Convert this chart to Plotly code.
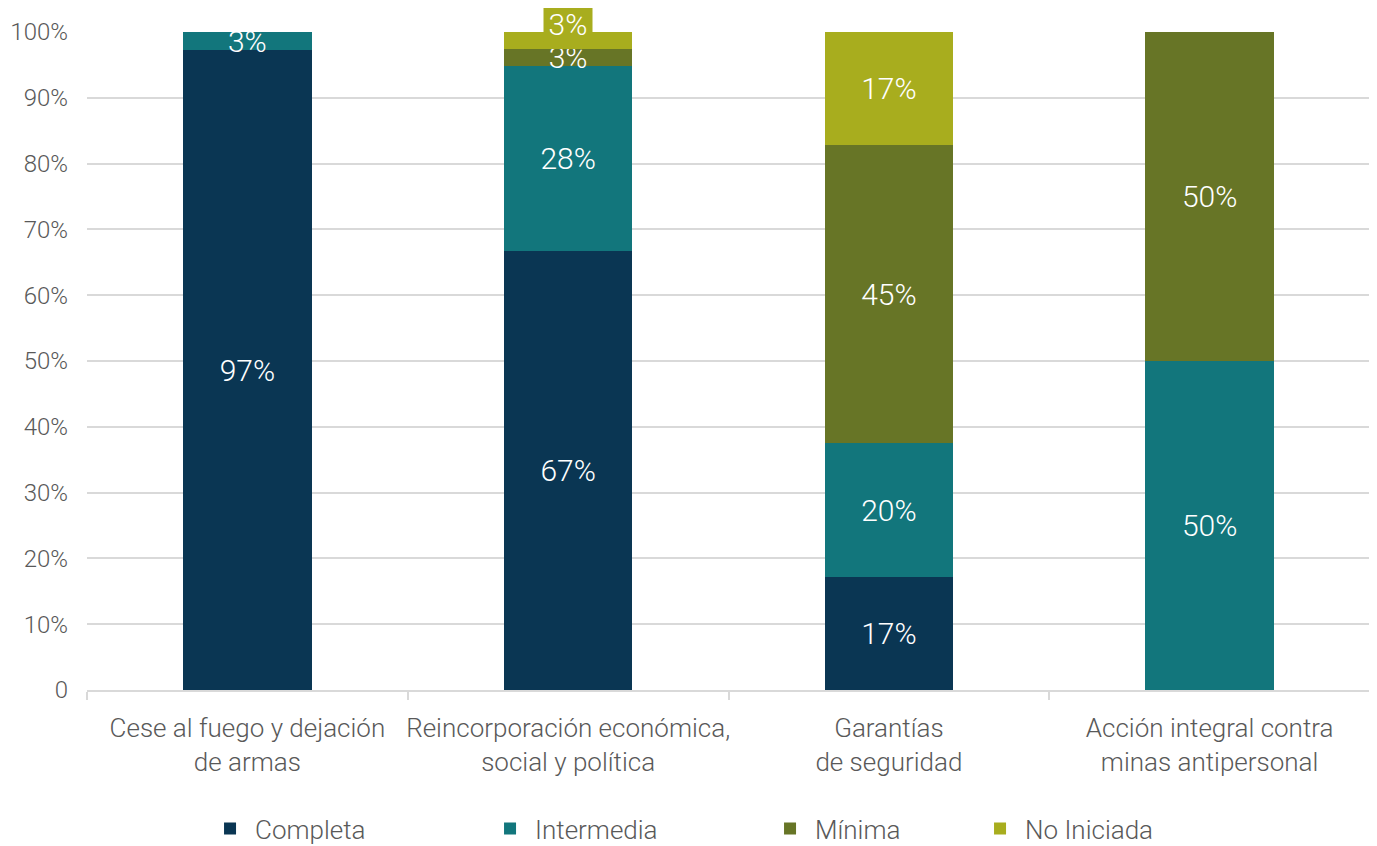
import plotly.graph_objects as go

categories = ["Cese al fuego y dejación<br>de armas",
              "Reincorporación económica,<br>social y política",
              "Garantías<br>de seguridad",
              "Acción integral contra<br>minas antipersonal"]
completa = [97.2, 66.7, 17.2, 0]
intermedia = [2.8, 28.2, 20.3, 50]
minima = [0, 2.55, 45.3, 50]
no_iniciada = [0, 2.55, 17.2, 0]

series = [("Completa", completa, "#0a3653", 225),
          ("Intermedia", intermedia, "#12767c", 225),
          ("Mínima", minima, "#677526", 155),
          ("No Iniciada", no_iniciada, "#a8ad1e", 150)]

font = "Roboto Light, Roboto"
grey = "#595959"

fig = go.Figure()
annotations = []
for name, vals, color, lw in series:
    text = []
    for i, v in enumerate(vals):
        if v == 0:
            text.append("")
        elif name == "No Iniciada" and v < 5:
            # small top segment: label sits above the bar in a filled box
            text.append("")
            annotations.append(dict(x=categories[i], y=sum(s[1][i] for s in series),
                                    yanchor="bottom", yshift=-10, height=34, width=48,
                                    valign="middle", text=f"{v:.0f}%", showarrow=False,
                                    bgcolor=color, borderpad=0,
                                    font=dict(family=font, size=30, color="white", weight=300)))
        else:
            text.append(f"{v:.0f}%")
    fig.add_trace(go.Bar(x=categories, y=vals, name=name, marker_color=color,
                         marker_line_width=0, text=text, textposition="inside",
                         insidetextanchor="middle", constraintext="none",
                         textfont=dict(family=font, size=30, color="white", weight=300),
                         legendwidth=lw, cliponaxis=False))

fig.update_layout(
    barmode="stack", bargap=0.6,
    width=1377, height=846,
    margin=dict(l=79, r=15, t=24, b=164, autoexpand=False),
    plot_bgcolor="white", paper_bgcolor="white",
    font=dict(family=font, color=grey, weight=300),
    annotations=annotations,
    legend=dict(orientation="h", traceorder="normal", x=0.092, xanchor="left",
                y=-0.175, yanchor="top", itemwidth=40,
                font=dict(family=font, size=26, color=grey, weight=300)),
)
fig.update_yaxes(range=[0, 100], tickvals=list(range(0, 101, 10)),
                 ticktext=["0"] + [f"{v}%" for v in range(10, 101, 10)],
                 showgrid=True, gridcolor="#d9d9d9", gridwidth=2, zeroline=False,
                 tickfont=dict(size=24, color=grey), ticks="", ticklabelstandoff=18,
                 automargin=False)
fig.update_xaxes(showline=True, linecolor="#d9d9d9", linewidth=2, tickangle=0,
                 ticks="outside", tickson="boundaries", ticklen=8, tickcolor="#d9d9d9",
                 tickwidth=2, tickfont=dict(size=26, color=grey), ticklabelstandoff=14,
                 automargin=False)

fig.write_html("out.html")
